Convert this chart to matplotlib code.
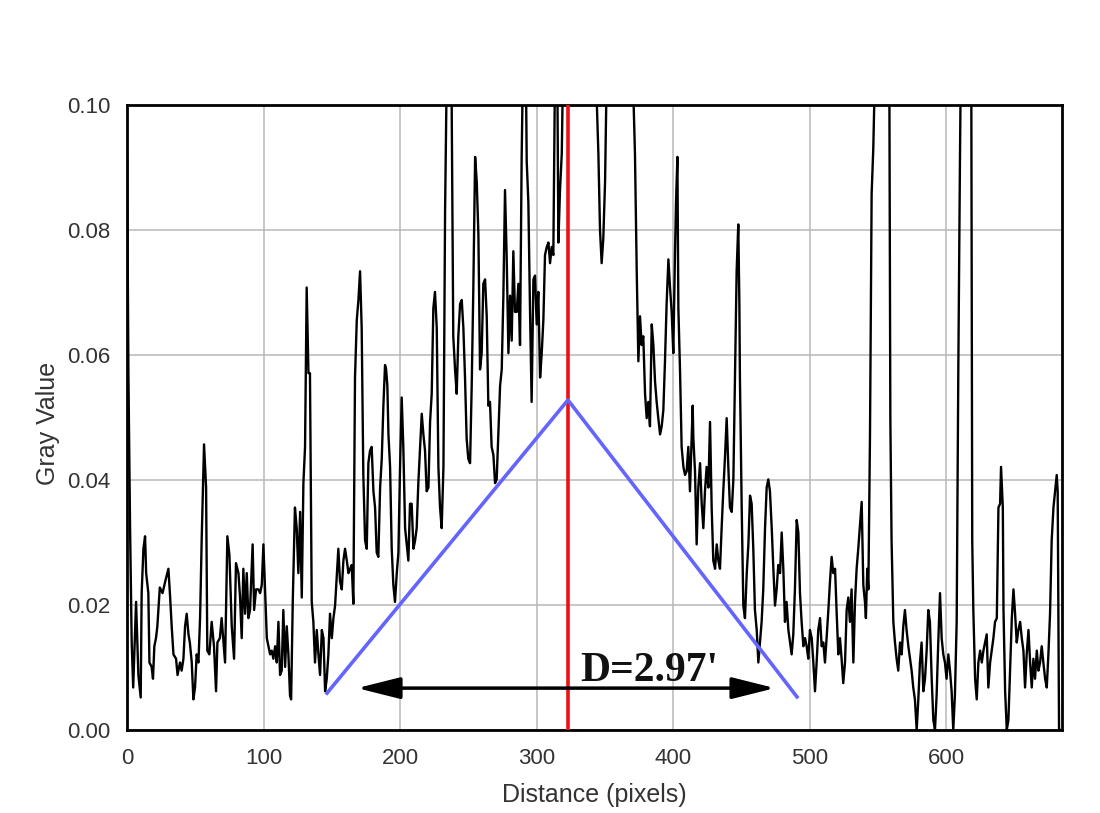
import matplotlib
matplotlib.use("Agg")
import matplotlib.pyplot as plt

plt.rcParams['font.family'] = ['Liberation Sans', 'DejaVu Sans']

# ---- data ----
distance = [
    0, 1, 2.2, 3.4, 4.5, 6.6, 8.3, 10, 10.7, 12, 13.2, 14, 15.6, 16.4, 18, 19, 20, 21.2, 22.2, 24,
    26, 28, 30.3, 31.5, 32.7, 34, 35.9, 37, 38.8, 40, 41.3, 42.5, 43.7, 45, 46, 47.4, 48.6, 49.8, 51, 52.3,
    53.5, 54.7, 56.4, 57.9, 58.8, 60.3, 62, 63.7, 65.2, 66.2, 68, 69.3, 71.8, 73.5, 75, 76.7, 78.4, 79.8, 81.6, 82.8,
    84.0, 85.2, 86.5, 87.7, 88.9, 90.1, 92, 93.1, 94.5, 96.2, 97.5, 98.7, 99.9, 101.1, 102.4, 103.6, 104.8, 106, 107.2, 108.5,
    109.7, 110.9, 112.1, 113.3, 114.5, 115.8, 117, 118.2, 119.4, 120.2, 121.4, 123, 124.3, 125.5, 126.8, 128, 129.2, 130.4, 131.6, 132.9,
    134, 135.3, 136.5, 137.7, 139, 140.2, 141.4, 142.7, 143.9, 145.1, 146.3, 147.5, 148.7, 150, 151.2, 152.4, 153.6, 154.8, 156, 157.3,
    158.5, 159.7, 161, 162.2, 163.4, 164.6, 165.8, 167, 168.3, 169.5, 170.7, 171.9, 173.1, 174.4, 175.6, 176.8, 178, 179.2, 180.5, 181.7,
    182.9, 184.1, 185.4, 186.6, 187.8, 189, 189.8, 190.7, 191.5, 192.7, 193.9, 195.1, 196.3, 197.6, 198.8, 200, 201.2, 202.4, 203.7, 204.9,
    206.1, 207.3, 208.5, 209.8, 211, 212.2, 213.4, 214.6, 215.9, 217.1, 218.3, 219.5, 220.8, 222, 223.2, 224.4, 225.6, 226.9, 228.1, 229.3,
    230.5, 231.8, 233, 234.2, 235.4, 236.6, 237.8, 239, 240.3, 241.5, 242.7, 244, 245.2, 246.4, 247.6, 248.8, 250, 251.3, 252.5, 253.7,
    255, 256.2, 257.4, 258.6, 259.8, 261, 262.3, 263.5, 264.7, 265.9, 267.1, 268.4, 269.6, 270.8, 272, 273.3, 274.5, 275.7, 276.9, 278.1,
    279.4, 280.6, 281.8, 283, 284.2, 285.5, 286.7, 287.9, 289.1, 290.3, 291.6, 292.8, 294, 295.2, 296.4, 297.7, 298.9, 300.1, 301.3, 302.6,
    303.8, 305, 306.2, 307.5, 308.7, 309.9, 311.1, 312.3, 313.5, 314.8, 316, 317.2, 318.5, 319.7, 321, 325, 330, 335, 340, 343,
    344.2, 345.3, 346.5, 347.7, 348.9, 350.2, 351.4, 353, 356, 360, 365, 369, 370.9, 372.1, 373.4, 374.6, 375.8, 377, 378.2, 379.5,
    380.7, 381.9, 383.1, 384.4, 385.6, 386.8, 388, 389.2, 390.5, 391.7, 392.9, 394.1, 395.3, 396.6, 397.8, 399, 400.2, 401.4, 402.2, 403.2,
    403.9, 405.1, 406.3, 407.6, 408.8, 410, 411.2, 412.4, 413.7, 414.4, 414.9, 416.1, 417.3, 418.5, 419.8, 421, 422.2, 423.4, 424.6, 425.9,
    427.1, 428.3, 429.5, 430.8, 432, 433.2, 434.4, 435.6, 436.8, 438, 439.3, 440.5, 441.7, 443, 444.2, 445.4, 446.6, 447.8, 448.6, 449,
    450.3, 451.5, 452.7, 454, 455.2, 456.4, 457.6, 458.8, 460, 461.3, 462.5, 463.7, 464.9, 466.1, 467.4, 468.6, 469.8, 471, 472.3, 473.5,
    474.7, 475.9, 477.1, 478.4, 479.6, 480.8, 482, 483.2, 484.5, 485.7, 486.9, 488.1, 489.3, 490.6, 491.8, 493, 494.2, 495.5, 496.7, 497.9,
    499.1, 500.3, 501.6, 502.8, 504, 505.2, 506.4, 507.7, 508.9, 510.1, 511.3, 512.5, 513.8, 515, 516.2, 517.4, 518.7, 519.9, 521.1, 522.3,
    523.5, 524.7, 526, 527.2, 528.4, 529.6, 530.8, 532.1, 533.3, 534.5, 535.7, 537, 538.2, 539.4, 540.6, 541.3, 542.3, 543.1, 544.3, 545.5,
    546.7, 547.9, 549.2, 552, 555, 557, 558.4, 559.2, 560.1, 561.4, 562.6, 563.8, 565, 566.3, 567.5, 568.7, 569.9, 571.1, 572.4, 573.6,
    574.8, 576, 577.2, 578.5, 579.7, 580.9, 582.1, 583.4, 584.6, 585.8, 587, 588.2, 589.5, 590.7, 591.9, 593.1, 594.3, 595.6, 596.8, 598,
    599.2, 600.4, 601.7, 602.9, 604.1, 605.3, 606.5, 607.8, 609, 610.2, 611.4, 614, 617, 618.5, 619.2, 620, 621.3, 622.5, 623.7, 625,
    626.2, 627.4, 628.6, 629.8, 631, 632.3, 633.5, 634.7, 635.9, 637.2, 638.4, 639.6, 640.3, 641.6, 642.1, 643.3, 644.5, 645.7, 646.9, 648.2,
    649.4, 650.6, 651.8, 653, 654.3, 655.5, 656.7, 657.9, 659.1, 660.4, 661.6, 662.8, 664, 665.2, 666.5, 667.7, 668.9, 670.1, 671.3, 672.6,
    673.8, 675, 676.2, 677.4, 678.7, 679.9, 681.1, 681.8, 682.8, 684,
]
gray_value = [
    0.092, 0.057, 0.0326, 0.014, 0.0068, 0.0205, 0.0088, 0.0052, 0.0219, 0.029, 0.031, 0.0251, 0.0219, 0.0108, 0.0101, 0.0082, 0.0134, 0.0147, 0.0166, 0.0228,
    0.0219, 0.0238, 0.0258, 0.0215, 0.0166, 0.0121, 0.0114, 0.0088, 0.0108, 0.0095, 0.0114, 0.0166, 0.0186, 0.0153, 0.014, 0.0108, 0.0049, 0.0068, 0.0121, 0.0108,
    0.0179, 0.0307, 0.0457, 0.0388, 0.0127, 0.0121, 0.0173, 0.0134, 0.0062, 0.014, 0.0147, 0.0179, 0.0108, 0.031, 0.028, 0.0166, 0.0114, 0.0267, 0.0251, 0.0212,
    0.0147, 0.0258, 0.0186, 0.0251, 0.0179, 0.0192, 0.0297, 0.0192, 0.0225, 0.0225, 0.0219, 0.0232, 0.0297, 0.0225, 0.0147, 0.0134, 0.0121, 0.0127, 0.0114, 0.0134,
    0.0108, 0.0173, 0.0088, 0.0095, 0.0192, 0.0101, 0.0166, 0.0121, 0.0055, 0.0049, 0.0205, 0.0356, 0.0323, 0.0251, 0.0349, 0.0212, 0.0395, 0.0453, 0.0708, 0.0571,
    0.0571, 0.0205, 0.0173, 0.0108, 0.016, 0.0121, 0.0088, 0.016, 0.0147, 0.0062, 0.0082, 0.0121, 0.0186, 0.0147, 0.0179, 0.0199, 0.0245, 0.029, 0.0238, 0.0225,
    0.0271, 0.029, 0.0271, 0.0251, 0.0258, 0.0264, 0.0202, 0.0564, 0.0656, 0.0688, 0.0734, 0.0643, 0.0408, 0.0303, 0.029, 0.0427, 0.0447, 0.0453, 0.0382, 0.0356,
    0.0284, 0.0277, 0.0388, 0.0434, 0.0519, 0.0584, 0.0577, 0.0551, 0.0473, 0.0421, 0.029, 0.0232, 0.0205, 0.0251, 0.0284, 0.0421, 0.0532, 0.0453, 0.0323, 0.0297,
    0.0271, 0.0362, 0.0362, 0.029, 0.0303, 0.0323, 0.0395, 0.0447, 0.0506, 0.0473, 0.0447, 0.0382, 0.0388, 0.0493, 0.0538, 0.0675, 0.0701, 0.0643, 0.0421, 0.0356,
    0.0323, 0.0421, 0.0832, 0.105, 0.13, 0.13, 0.101, 0.063, 0.0577, 0.0538, 0.063, 0.0682, 0.0688, 0.0643, 0.0564, 0.0466, 0.0434, 0.0427, 0.0551, 0.0708,
    0.0917, 0.0877, 0.0793, 0.0577, 0.0603, 0.0714, 0.0721, 0.0662, 0.0519, 0.0525, 0.0453, 0.044, 0.0395, 0.0401, 0.0473, 0.0551, 0.0577, 0.0695, 0.0864, 0.076,
    0.0603, 0.0695, 0.0623, 0.0766, 0.0669, 0.0669, 0.0714, 0.0616, 0.0917, 0.11, 0.12, 0.091, 0.0845, 0.0675, 0.0525, 0.0721, 0.0727, 0.0649, 0.0701, 0.0564,
    0.0603, 0.0656, 0.076, 0.0773, 0.078, 0.0747, 0.0773, 0.076, 0.105, 0.12, 0.078, 0.0864, 0.0923, 0.11, 0.13, 0.15, 0.17, 0.16, 0.13, 0.11,
    0.1, 0.0923, 0.08, 0.0747, 0.0786, 0.0877, 0.105, 0.12, 0.14, 0.16, 0.14, 0.12, 0.102, 0.0923, 0.0734, 0.059, 0.0662, 0.0616, 0.063, 0.0538,
    0.0499, 0.0525, 0.0486, 0.0649, 0.0616, 0.0558, 0.0525, 0.0499, 0.0473, 0.0486, 0.0512, 0.059, 0.0682, 0.0753, 0.0708, 0.0669, 0.0603, 0.076, 0.0845, 0.0917,
    0.0675, 0.0577, 0.0453, 0.0421, 0.0408, 0.0414, 0.0453, 0.0382, 0.0473, 0.0519, 0.0466, 0.0414, 0.0297, 0.0388, 0.0427, 0.0362, 0.0323, 0.0382, 0.0421, 0.0388,
    0.0493, 0.0356, 0.0271, 0.0258, 0.0297, 0.0271, 0.0258, 0.0323, 0.0382, 0.0434, 0.0499, 0.0421, 0.0356, 0.0349, 0.0401, 0.0564, 0.0734, 0.0809, 0.0682, 0.0564,
    0.0356, 0.0199, 0.0179, 0.0251, 0.0297, 0.0375, 0.0362, 0.029, 0.0192, 0.016, 0.0108, 0.014, 0.0173, 0.0225, 0.0323, 0.0388, 0.0401, 0.0382, 0.0323, 0.0258,
    0.0199, 0.0225, 0.0264, 0.0251, 0.0316, 0.0258, 0.0173, 0.0205, 0.016, 0.014, 0.0121, 0.0153, 0.0225, 0.0336, 0.0316, 0.0219, 0.0173, 0.0134, 0.0147, 0.0134,
    0.0114, 0.016, 0.0147, 0.0108, 0.0062, 0.0108, 0.016, 0.0179, 0.0134, 0.014, 0.0108, 0.0147, 0.0192, 0.0238, 0.0277, 0.0251, 0.0258, 0.0186, 0.0121, 0.0147,
    0.0114, 0.0075, 0.0108, 0.0192, 0.0212, 0.0173, 0.0225, 0.0108, 0.0205, 0.0258, 0.029, 0.0329, 0.0365, 0.0232, 0.0205, 0.0179, 0.0258, 0.0225, 0.0473, 0.0858,
    0.093, 0.105, 0.13, 0.16, 0.15, 0.12, 0.11, 0.0499, 0.0303, 0.0173, 0.014, 0.0114, 0.0095, 0.014, 0.0121, 0.0166, 0.0192, 0.016, 0.0134, 0.0114,
    0.0095, 0.0068, 0.0049, 0.0, 0.0049, 0.0108, 0.014, 0.0062, 0.0082, 0.0127, 0.0192, 0.0173, 0.0082, 0.0016, 0.0, 0.0055, 0.014, 0.0219, 0.0147, 0.0121,
    0.0108, 0.0082, 0.0121, 0.0095, 0.0062, 0.0, 0.0055, 0.0173, 0.0577, 0.091, 0.12, 0.15, 0.12, 0.105, 0.0303, 0.0192, 0.0082, 0.0049, 0.0108, 0.0127,
    0.0108, 0.0127, 0.014, 0.0153, 0.0068, 0.0108, 0.0127, 0.0147, 0.0173, 0.0179, 0.0356, 0.0362, 0.0421, 0.0356, 0.0192, 0.0062, 0.0, 0.0016, 0.0095, 0.0179,
    0.0225, 0.0186, 0.014, 0.016, 0.0173, 0.0147, 0.0127, 0.0068, 0.0121, 0.016, 0.0108, 0.0068, 0.0114, 0.0082, 0.0127, 0.0095, 0.0108, 0.0134, 0.0108, 0.0082,
    0.0068, 0.0121, 0.0186, 0.0303, 0.0356, 0.0382, 0.0408, 0.0382, 0.0, 0.0,
]

x_ticks = [0, 100, 200, 300, 400, 500, 600]
y_ticks = [0.00, 0.02, 0.04, 0.06, 0.08, 0.10]
y_tick_labels = ["0.00", "0.02", "0.04", "0.06", "0.08", "0.10"]

marker_x = 323                       # red vertical line
triangle_x = [146.5, 323, 490.8]     # blue triangle
triangle_y = [0.0059, 0.0528, 0.0053]
arrow_x = [168.5, 474.7]
arrow_y = 0.0067
label_text = "D=2.97'"

# ---- figure ----
fig = plt.figure(figsize=(11, 8.13), dpi=100)
ax = fig.add_axes([0.1155, 0.1021, 0.8500, 0.7687])

ax.plot(distance, gray_value, color='black', lw=1.7, zorder=3)
ax.axvline(marker_x, color='#ee1111', lw=2.6, zorder=4)
ax.plot(triangle_x, triangle_y, color='#6464ff', lw=2.6, zorder=5)
ax.annotate('', xy=(arrow_x[0], arrow_y), xytext=(arrow_x[1], arrow_y),
            arrowprops=dict(arrowstyle='<|-|>,head_length=1.2,head_width=0.3',
                            color='black', lw=2.5, mutation_scale=22,
                            shrinkA=0, shrinkB=0), zorder=6)
ax.text(332, 0.0078, label_text, fontfamily='Liberation Serif', fontweight='bold',
        fontsize=30, color='#111111', zorder=7)

ax.set_xlim(0, 685)
ax.set_ylim(0, 0.1)
ax.set_xticks(x_ticks)
ax.set_yticks(y_ticks)
ax.set_yticklabels(y_tick_labels)
ax.grid(True, color='#b8b8b8', lw=1.1, zorder=0)
ax.set_axisbelow(True)
for sp in ax.spines.values():
    sp.set_linewidth(2)
    sp.set_color('black')
ax.tick_params(axis='both', length=0, labelsize=16, labelcolor='#333333')
ax.tick_params(axis='x', pad=13)
ax.tick_params(axis='y', pad=12)
ax.set_xlabel("Distance (pixels)", fontsize=18, color='#333333', labelpad=10)
ax.set_ylabel("Gray Value", fontsize=18, color='#333333')
ax.yaxis.set_label_coords(-0.072, 0.49)

fig.savefig("out.png", dpi=100, facecolor='white')
